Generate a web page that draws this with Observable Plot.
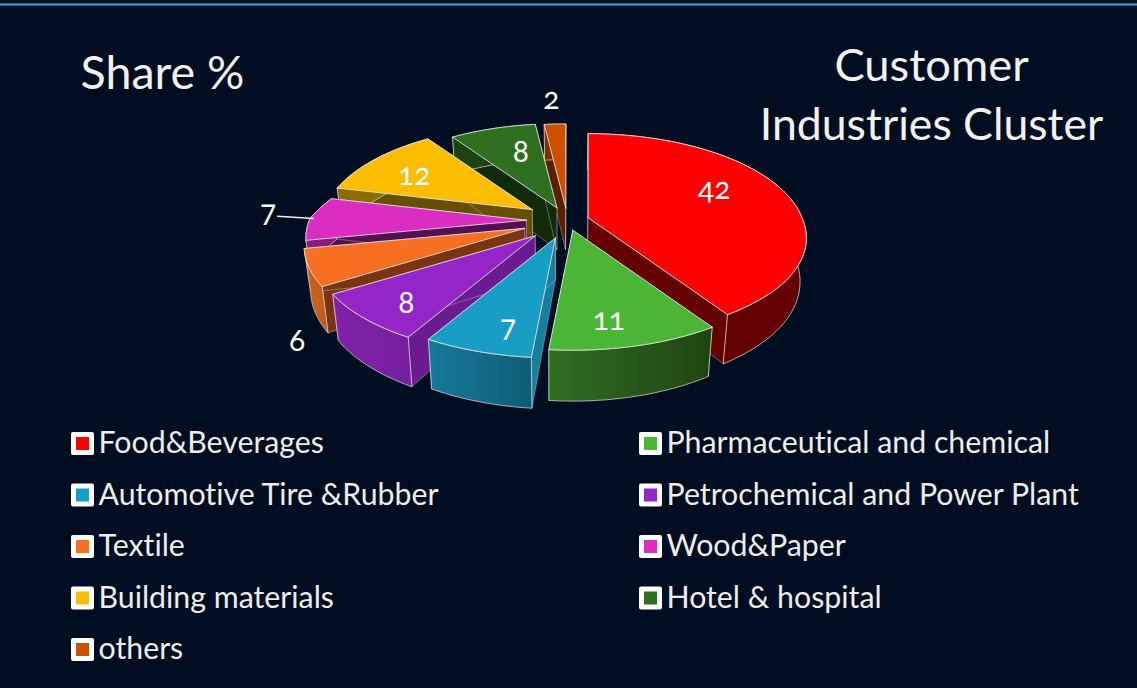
<!DOCTYPE html>
<html>
<head>
<meta charset="utf-8">
<script src="https://cdn.jsdelivr.net/npm/d3@7"></script>
<script src="https://cdn.jsdelivr.net/npm/@observablehq/plot@0.6"></script>
<style>
html,body{margin:0;padding:0;background:#010d20;overflow:hidden}
svg{display:block}
svg text{font-variant-ligatures:none}
</style>
</head>
<body>
<div id="chart"></div>
<script>
// --- data ---
const categories = ["Food&Beverages","Pharmaceutical and chemical","Automotive Tire &Rubber","Petrochemical and Power Plant","Textile","Wood&Paper","Building materials","Hotel & hospital","others"];
const shares = [42,11,7,8,6,7,12,8,2];
const colors = ["#ff0000","#4bb536","#189dc4","#9425c7","#f96f21","#dc2dc3","#fdbd00","#2f6f20","#cf4f00"];
const radialWall = ["#650000","#2a611e","#157fa0","#6a1c90","#7a3510","#55104f","#665000","#122a0c","#5a2000"];
const arcWallA = ["#650000","#2f6e22","#17799b","#8022a8","#cc6420","#8c1c7c","#8c6c00","#1c4214","#803000"];
const arcWallB = ["#650000","#1f4512","#0f5d78","#771fa0","#c05a1c","#8c1c7c","#8c6c00","#1c4214","#803000"];
const explode = [0.10,0.10,0.18,0.21,0.21,0.19,0.20,0.14,0.13];
const labelAngle = [64,169.7,193.6,220.8,222.6,273.9,302.3,343.4,356.5];
const labelRadius = [0.68,0.80,0.80,0.81,1.29,1.21,0.685,0.644,1.36];
const paintOrder = [8,7,6,5,4,3,0,2,1];

// --- 3D pie geometry ---
const W = 1137, H = 688, BG = "#010d20", FONT = "Lato, 'Open Sans', sans-serif";
const cx = 567, cy = 220, rx = 217, ry = 98.8, persp = 0.176, depth = 42, vanishX = 555, shrink = 0.975;
const rad = d => d * Math.PI / 180;
const clamp01 = t => Math.max(0, Math.min(1, t));
const scaleAt = z => 1 / (1 - persp * z);
const proj = (deg, r, rim = false) => {
  const X = r * Math.sin(rad(deg)), Z = -r * Math.cos(rad(deg)), s = scaleAt(Z);
  const f = !rim ? 1 : X < 0 ? 0.96 + 0.04 * clamp01((Z + 0.22) / 0.2) : 0.985 + 0.015 * clamp01(Z / 0.6);
  return {x: X * rx * s * f, y: Z * ry * s, s};
};
const total = d3.sum(shares);
let acc = 0;
const slices = shares.map((v, i) => {
  const a0 = acc / total * 360; acc += v; const a1 = acc / total * 360;
  const mid = (a0 + a1) / 2, off = proj(mid, explode[i]);
  return {i, a0, a1, mid, ax: cx + off.x, ay: cy + off.y};
});
const topPt = (sl, deg, r = 1, rim = false) => { const p = proj(deg, r, rim); return {x: sl.ax + p.x, y: sl.ay + p.y, s: p.s}; };
const bottom = p => ({x: vanishX + (p.x - vanishX) * shrink, y: p.y + depth * p.s});
const arcPts = sl => d3.range(0, 61).map(k => topPt(sl, sl.a0 + (sl.a1 - sl.a0) * k / 60, 1, true));
const apexOf = sl => ({x: sl.ax, y: sl.ay, s: 1});
const closed = pts => [...pts, pts[0]];

const lineStroke = {stroke: "#e6e6e6", strokeWidth: 1, strokeLinejoin: "round"};
const poly = (pts, fill, strokeOpacity) => Plot.line(closed(pts), {x: "x", y: "y", fill, ...lineStroke, strokeOpacity});

const sliceMarks = paintOrder.flatMap(i => {
  const sl = slices[i], arc = arcPts(sl), ap = apexOf(sl), apB = bottom(ap);
  const wall = p => [ap, p, bottom(p), apB];
  return [
    poly(wall(arc[0]), radialWall[i], 0.35),
    poly(wall(arc[60]), radialWall[i], 0.35),
    poly([...arc, ...arc.map(bottom).reverse()], `url(#arc${i})`, 0.7),
    poly([ap, ...arc], colors[i], 0.85)
  ];
});

const gradientDefs = () => {
  const defs = d3.create("svg:defs");
  colors.forEach((_, i) => {
    const g = defs.append("linearGradient").attr("id", `arc${i}`).attr("x1", 0).attr("x2", 1).attr("y1", 0).attr("y2", 0);
    g.append("stop").attr("offset", 0).attr("stop-color", arcWallA[i]);
    g.append("stop").attr("offset", 1).attr("stop-color", arcWallB[i]);
  });
  return defs.node();
};

// --- labels ---
const labels = slices.map(sl => {
  const p = topPt(sl, labelAngle[sl.i], labelRadius[sl.i]);
  return {x: p.x, y: p.y, text: String(shares[sl.i])};
});
const leaderSlice = slices[5];
const leader = [topPt(leaderSlice, 272, 1.155), topPt(leaderSlice, 271, 0.985)];

// --- legend ---
const legendX = [71, 639], legendTop = 443.5, legendStep = 51.5, box = 11.5, inner = 6.5;
const legend = categories.map((name, i) => {
  const x = legendX[i % 2] + box, y = legendTop + legendStep * Math.floor(i / 2);
  return {name, x, y, color: colors[i]};
});

const titles = [
  {text: "Share %", x: 80, y: 74, anchor: "start", size: 46.6},
  {text: "Customer", x: 931, y: 66, anchor: "middle", size: 45.3},
  {text: "Industries Cluster", x: 931, y: 125, anchor: "middle", size: 44.6}
];

const plot = Plot.plot({
  width: W, height: H, margin: 0,
  style: {background: BG, fontFamily: FONT},
  x: {domain: [0, W], range: [0, W], axis: null},
  y: {domain: [0, H], range: [0, H], axis: null},
  marks: [
    gradientDefs,
    Plot.ruleY([4], {stroke: "#3ab0ea", strokeWidth: 2}),
    ...sliceMarks,
    Plot.line(leader, {x: "x", y: "y", stroke: "#f2f2f2", strokeWidth: 1.3}),
    Plot.text(labels, {x: "x", y: "y", text: "text", fill: "#ffffff", fontSize: 30, fontFamily: FONT, fontVariant: "oldstyle-nums", lineAnchor: "middle"}),
    ...titles.map(t => Plot.text([t], {x: "x", y: "y", text: "text", textAnchor: t.anchor, fill: "#f2f2f2", fontSize: t.size, fontFamily: FONT, lineAnchor: "middle"})),
    Plot.rect(legend, {x1: d => d.x - box, x2: d => d.x + box, y1: d => d.y - box, y2: d => d.y + box, fill: "#ffffff", rx: 2}),
    Plot.rect(legend, {x1: d => d.x - inner, x2: d => d.x + inner, y1: d => d.y - inner, y2: d => d.y + inner, fill: "color"}),
    Plot.text(legend, {x: d => d.x + 15.5, y: d => d.y - 0.5, text: "name", textAnchor: "start", fill: "#eeeeee", fontSize: 30.3, fontFamily: FONT, lineAnchor: "middle"})
  ]
});
document.getElementById("chart").append(plot);
</script>
</body>
</html>
